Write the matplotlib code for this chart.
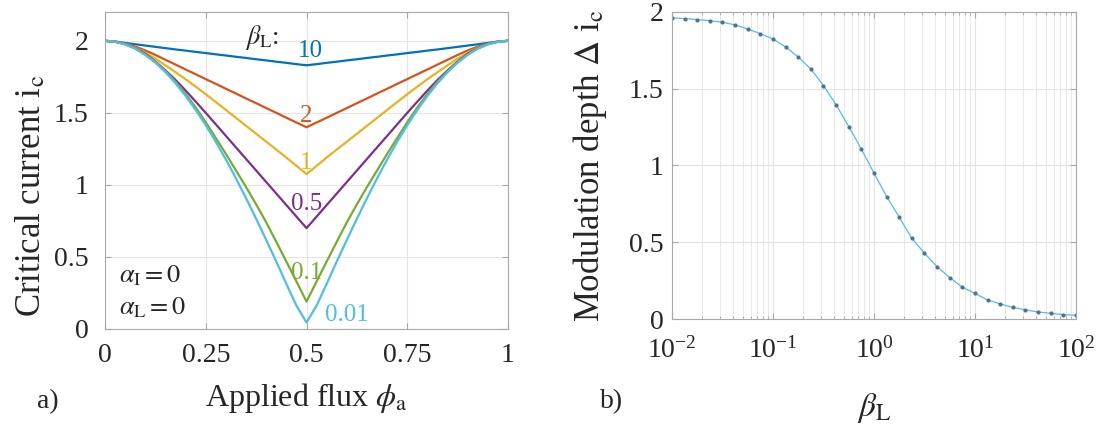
"""Critical current vs applied flux, and modulation depth vs screening parameter."""

import matplotlib

matplotlib.use("Agg")
import matplotlib.pyplot as plt
import numpy as np

plt.rcParams["font.family"] = "serif"
plt.rcParams["font.serif"] = ["Liberation Serif", "DejaVu Serif"]
plt.rcParams["mathtext.fontset"] = "stix"

# ---- panel a: i_c(phi_a) for several beta_L ----
flux = np.linspace(0.0, 1.0, 41)
beta_labels = ["10", "2", "1", "0.5", "0.1", "0.01"]
ic_beta_10 = [2.000, 1.995, 1.985, 1.976, 1.967, 1.958, 1.949, 1.940, 1.932, 1.923, 1.915,
              1.906, 1.898, 1.889, 1.881, 1.872, 1.864, 1.855, 1.847, 1.838, 1.830,
              1.838, 1.847, 1.855, 1.864, 1.872, 1.881, 1.889, 1.898, 1.906, 1.915,
              1.923, 1.932, 1.940, 1.949, 1.958, 1.967, 1.976, 1.985, 1.995, 2.000]
ic_beta_2 = [2.000, 1.994, 1.980, 1.960, 1.933, 1.902, 1.868, 1.835, 1.801, 1.768, 1.734,
             1.701, 1.667, 1.634, 1.600, 1.567, 1.533, 1.500, 1.466, 1.433, 1.400,
             1.433, 1.466, 1.500, 1.533, 1.567, 1.600, 1.634, 1.667, 1.701, 1.734,
             1.768, 1.801, 1.835, 1.868, 1.902, 1.933, 1.960, 1.980, 1.994, 2.000]
ic_beta_1 = [2.000, 1.994, 1.978, 1.953, 1.918, 1.876, 1.830, 1.782, 1.733, 1.682, 1.629,
             1.575, 1.520, 1.465, 1.410, 1.355, 1.300, 1.245, 1.190, 1.132, 1.075,
             1.132, 1.190, 1.245, 1.300, 1.355, 1.410, 1.465, 1.520, 1.575, 1.629,
             1.682, 1.733, 1.782, 1.830, 1.876, 1.918, 1.953, 1.978, 1.994, 2.000]
ic_beta_05 = [2.000, 1.994, 1.977, 1.949, 1.910, 1.856, 1.795, 1.728, 1.655, 1.578, 1.500,
              1.420, 1.340, 1.260, 1.180, 1.100, 1.020, 0.940, 0.860, 0.780, 0.700,
              0.780, 0.860, 0.940, 1.020, 1.100, 1.180, 1.260, 1.340, 1.420, 1.500,
              1.578, 1.655, 1.728, 1.795, 1.856, 1.910, 1.949, 1.977, 1.994, 2.000]
ic_beta_01 = [2.000, 1.994, 1.976, 1.947, 1.905, 1.853, 1.790, 1.716, 1.632, 1.538, 1.435,
              1.325, 1.215, 1.100, 0.985, 0.865, 0.740, 0.605, 0.468, 0.330, 0.190,
              0.330, 0.468, 0.605, 0.740, 0.865, 0.985, 1.100, 1.215, 1.325, 1.435,
              1.538, 1.632, 1.716, 1.790, 1.853, 1.905, 1.947, 1.976, 1.994, 2.000]
ic_beta_001 = [2.000, 1.994, 1.975, 1.945, 1.902, 1.848, 1.782, 1.705, 1.618, 1.520, 1.414,
               1.299, 1.176, 1.045, 0.908, 0.765, 0.618, 0.468, 0.313, 0.162, 0.045,
               0.162, 0.313, 0.468, 0.618, 0.765, 0.908, 1.045, 1.176, 1.299, 1.414,
               1.520, 1.618, 1.705, 1.782, 1.848, 1.902, 1.945, 1.975, 1.994, 2.000]
ic_curves = [ic_beta_10, ic_beta_2, ic_beta_1, ic_beta_05, ic_beta_01, ic_beta_001]
curve_colours = ["#0072BD", "#D95319", "#EDB120", "#7E2F8E", "#77AC30", "#4DBEEE"]
# where each beta_L value is written next to its curve (data coords)
label_x = [0.510, 0.500, 0.500, 0.500, 0.500, 0.600]
label_y = [1.93, 1.48, 1.15, 0.87, 0.39, 0.10]

# ---- panel b: modulation depth vs beta_L ----
beta_L = np.logspace(-2, 2, 33)
delta_ic = [1.962, 1.957, 1.951, 1.943, 1.933, 1.916, 1.889, 1.859, 1.824, 1.772, 1.707,
            1.628, 1.520, 1.396, 1.254, 1.107, 0.950, 0.798, 0.663, 0.526, 0.428,
            0.341, 0.270, 0.207, 0.167, 0.124, 0.098, 0.076, 0.059, 0.046, 0.037,
            0.029, 0.024]

TEXT = "#262626"
SPINE = "#a8a8a8"
GRID = "#e4e4e4"


def _style(ax):
    for spine in ax.spines.values():
        spine.set_color(SPINE)
        spine.set_linewidth(0.8)
    ax.tick_params(which="both", direction="in", top=True, right=True,
                   colors=SPINE, labelcolor=TEXT, labelsize=20)
    ax.tick_params(which="major", length=4)
    ax.tick_params(which="minor", length=2)
    ax.set_axisbelow(True)


fig = plt.figure(figsize=(11.02, 4.25), dpi=100)

ax1 = fig.add_axes([0.0953, 0.2259, 0.3657, 0.7459])
for values, colour in zip(ic_curves, curve_colours):
    ax1.plot(flux, values, color=colour, linewidth=1.6)
for text, colour, x, y in zip(beta_labels, curve_colours, label_x, label_y):
    ax1.text(x, y, text, color=colour, fontsize=18, ha="center", va="center")
ax1.text(0.39, 2.02, r"$\beta_\mathrm{L}$:", color=TEXT, fontsize=19, ha="center", va="center")
ax1.text(0.035, 0.37, r"$\alpha_\mathrm{I} = 0$", color=TEXT, fontsize=19, ha="left", va="center")
ax1.text(0.035, 0.15, r"$\alpha_\mathrm{L} = 0$", color=TEXT, fontsize=19, ha="left", va="center")
ax1.set_xlim(0, 1)
ax1.set_ylim(0, 2.2)
ax1.set_xticks([0, 0.25, 0.5, 0.75, 1], ["0", "0.25", "0.5", "0.75", "1"])
ax1.set_yticks([0, 0.5, 1, 1.5, 2], ["0", "0.5", "1", "1.5", "2"])
ax1.grid(True, color=GRID, linewidth=0.8)
_style(ax1)
ax1.tick_params(axis="y", pad=12)
ax1.tick_params(axis="x", pad=10)
ax1.set_xlabel(r"Applied flux $\phi_\mathrm{a}$", fontsize=23, color=TEXT)
ax1.set_ylabel(r"Critical current i$_\mathrm{c}$", fontsize=25, color=TEXT)
ax1.yaxis.set_label_coords(-0.14, 0.42)
ax1.xaxis.set_label_coords(0.5, -0.165)

ax2 = fig.add_axes([0.6098, 0.2494, 0.3666, 0.7224])
ax2.semilogx(beta_L, delta_ic, color="#4DBEEE", linewidth=0.9, marker=".",
             markersize=4, markerfacecolor="#55708a", markeredgecolor="#55708a")
ax2.set_xlim(1e-2, 1e2)
ax2.set_ylim(0, 2)
ax2.set_yticks([0, 0.5, 1, 1.5, 2], ["0", "0.5", "1", "1.5", "2"])
ax2.grid(True, which="major", color=GRID, linewidth=0.8)
ax2.grid(True, which="minor", axis="x", color=GRID, linewidth=0.6)
_style(ax2)
ax2.tick_params(axis="y", pad=6)
ax2.tick_params(axis="x", pad=13)
ax2.set_xlabel(r"$\beta_\mathrm{L}$", fontsize=24, color=TEXT)
ax2.set_ylabel(r"Modulation depth $\Delta$ i$_\mathrm{c}$", fontsize=25, color=TEXT)
ax2.yaxis.set_label_coords(-0.155, 0.5)
ax2.xaxis.set_label_coords(0.5, -0.235)

fig.text(0.034, 0.055, "a)", fontsize=20, color=TEXT, va="center")
fig.text(0.544, 0.055, "b)", fontsize=20, color=TEXT, va="center")

fig.savefig("out.png", dpi=100, facecolor="white")
